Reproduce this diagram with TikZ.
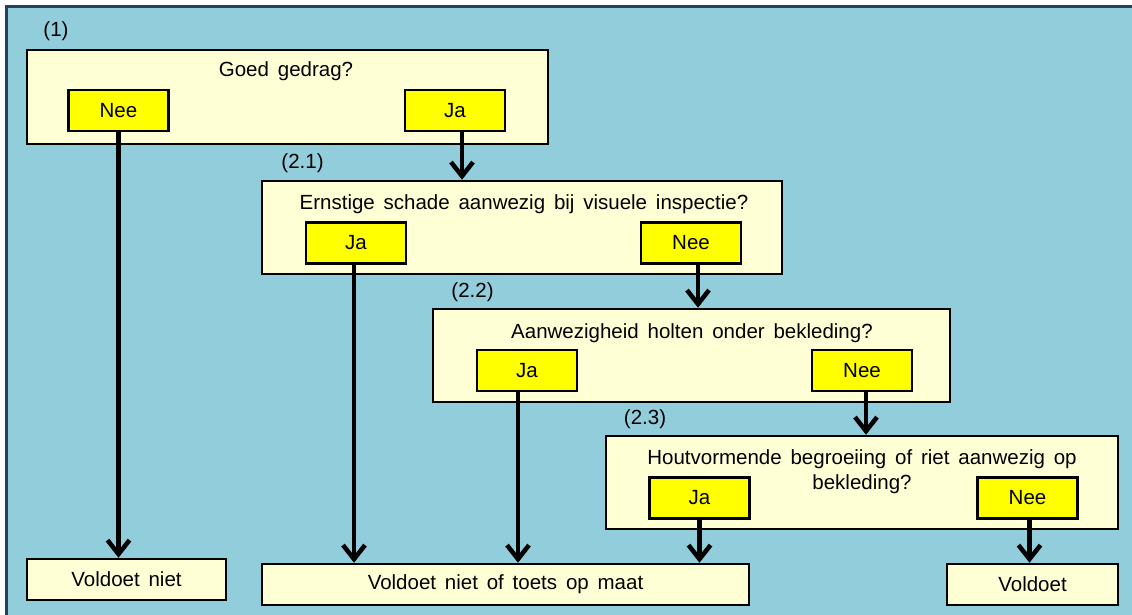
\documentclass[tikz,border=0pt]{standalone}
\usepackage{fontspec}
\setmainfont{Liberation Sans}[WordSpace=1.55]
\usetikzlibrary{arrows.meta}
\definecolor{achtergrond}{HTML}{92CDDC}
\definecolor{kader}{HTML}{243F60}
\definecolor{vraag}{HTML}{FFFFD5}
\definecolor{keuze}{HTML}{FFFF00}
\tikzset{
	vraagbox/.style={draw=black, line width=2.5pt, fill=vraag, inner sep=0pt},
	keuzebox/.style={draw=black, line width=2.5pt, fill=keuze, minimum width=100pt, minimum height=41pt, inner sep=0pt},
	uitkomst/.style={draw=black, line width=2.5pt, fill=vraag, minimum height=41pt, inner sep=0pt},
	tekst/.style={inner sep=0pt, align=center},
	pijl/.style={line width=4.5pt, -{Straight Barb[length=14pt,width=22pt,line width=4.5pt]}}
}

\begin{document}
\begin{tikzpicture}[x=1pt, y=-1pt, font=\fontsize{20.5}{25}\selectfont]
			%%%%% START %%%%%
			\useasboundingbox (0,0) rectangle (1132,615);
			\fill[white] (0,0) rectangle (1132,615);
			\fill[achtergrond] (8,8) rectangle (1132,615);
			\draw[kader, line width=3.5pt] (6.5,615) -- (6.5,6.5) -- (1132,6.5);
			
			% vraag 1
			\node[vraagbox, minimum width=521pt, minimum height=94pt] (q1) at (287.5,97) {};
			\node[tekst] (l1) at (56,31) {(1)};
			\node[tekst] (t1) at (286,71) {Goed gedrag?};
			\node[keuzebox] (nee1) at (118.5,110.5) {Nee};
			\node[keuzebox] (ja1) at (455,110.5) {Ja};
			
			% vraag 2.1
			\node[vraagbox, minimum width=520pt, minimum height=93pt] (q21) at (522,227.5) {};
			\node[tekst] (l21) at (302.5,163) {(2.1)};
			\node[tekst] (t21) at (524,204) {Ernstige schade aanwezig bij visuele inspectie?};
			\node[keuzebox] (ja21) at (356,243) {Ja};
			\node[keuzebox] (nee21) at (691,243) {Nee};
			
			% vraag 2.2
			\node[vraagbox, minimum width=517pt, minimum height=93pt] (q22) at (691.5,355.5) {};
			\node[tekst] (l22) at (472.5,292) {(2.2)};
			\node[tekst] (t22) at (692,333) {Aanwezigheid holten onder bekleding?};
			\node[keuzebox] (ja22) at (527,370.5) {Ja};
			\node[keuzebox] (nee22) at (862,370.5) {Nee};
			
			% vraag 2.3
			\node[vraagbox, minimum width=512pt, minimum height=93pt] (q23) at (862,482.5) {};
			\node[tekst] (l23) at (645,419) {(2.3)};
			\node[tekst] (t23) at (862,471.5) {Houtvormende begroeiing of riet aanwezig op\\bekleding?};
			\node[keuzebox] (ja23) at (699.5,498) {Ja};
			\node[keuzebox] (nee23) at (1027.5,498) {Nee};
			
			% uitkomsten
			\node[uitkomst, minimum width=199pt] (niet) at (126.5,579.5) {Voldoet niet};
			\node[uitkomst, minimum width=487pt] (maat) at (505.5,584.5) {Voldoet niet of toets op maat};
			\node[uitkomst, minimum width=171pt] (voldoet) at (1032.5,584.5) {Voldoet};
			
			% pijlen
			\draw[pijl] (nee1.south) -- (nee1.south |- niet.north);
			\draw[pijl] ([xshift=7pt]ja1.south) -- ([xshift=7pt]ja1.south |- q21.north);
			\draw[pijl] ([xshift=-2pt]ja21.south) -- ([xshift=-2pt]ja21.south |- maat.north);
			\draw[pijl] ([xshift=7pt]nee21.south) -- ([xshift=7pt]nee21.south |- q22.north);
			\draw[pijl] ([xshift=-9pt]ja22.south) -- ([xshift=-9pt]ja22.south |- maat.north);
			\draw[pijl] ([xshift=4pt]nee22.south) -- ([xshift=4pt]nee22.south |- q23.north);
			\draw[pijl] (ja23.south) -- (ja23.south |- maat.north);
			\draw[pijl] ([xshift=2pt]nee23.south) -- ([xshift=2pt]nee23.south |- voldoet.north);
			%%%%% END %%%%%
\end{tikzpicture}
\end{document}
